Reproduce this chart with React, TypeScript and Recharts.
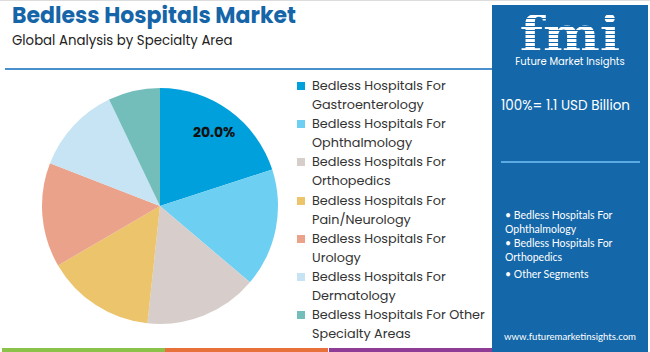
import React from "react";
import { PieChart, Pie, Cell, Legend } from "recharts";

const SEGMENTS = [
  "Bedless Hospitals For Gastroenterology",
  "Bedless Hospitals For Ophthalmology",
  "Bedless Hospitals For Orthopedics",
  "Bedless Hospitals For Pain/Neurology",
  "Bedless Hospitals For Urology",
  "Bedless Hospitals For Dermatology",
  "Bedless Hospitals For Other Specialty Areas",
];
const LEGEND_LINES = [
  ["Bedless Hospitals For", "Gastroenterology"],
  ["Bedless Hospitals For", "Ophthalmology"],
  ["Bedless Hospitals For", "Orthopedics"],
  ["Bedless Hospitals For", "Pain/Neurology"],
  ["Bedless Hospitals For", "Urology"],
  ["Bedless Hospitals For", "Dermatology"],
  ["Bedless Hospitals For Other", "Specialty Areas"],
];
const SHARES = [20.0, 16.2, 15.5, 14.9, 14.3, 12.0, 7.1];
const COLORS = ["#00A0DC", "#6DCFF2", "#D7CDCA", "#EBC46B", "#EBA28B", "#C6E4F3", "#73BEBB"];
const SIDE_BULLETS = [
  ["Bedless Hospitals For", "Ophthalmology"],
  ["Bedless Hospitals For", "Orthopedics"],
  ["Other Segments"],
];
const STRIPS = ["#8BC34A", "#E8703A", "#8E3C96"];

const FONT = "Poppins, 'Open Sans', sans-serif";
const SIDE_FONT = "Lato, 'Open Sans', sans-serif";
const PANEL = "#1467A8";

const data = SEGMENTS.map((name, i) => ({ name, value: SHARES[i] }));

const RAD = Math.PI / 180;

// only the biggest slice carries a label in the original
function SliceLabel(props: any) {
  const { cx, cy, midAngle, outerRadius, index, value } = props;
  if (index !== 0) return null;
  const r = outerRadius * 0.78;
  const x = cx + r * Math.cos(-midAngle * RAD);
  const y = cy + r * Math.sin(-midAngle * RAD);
  return (
    <text x={x} y={y} textAnchor="middle" dominantBaseline="central" fill="#111" fontSize={14} fontWeight={700} fontFamily={FONT}>
      {value.toFixed(1)}%
    </text>
  );
}

function LegendBox() {
  return (
    <div style={{ fontFamily: FONT, fontSize: 12.8, color: "#333", lineHeight: "19.1px" }}>
      {LEGEND_LINES.map((lines, i) => (
        <div key={i} style={{ display: "flex", alignItems: "flex-start" }}>
          <span style={{ width: 8, height: 8, background: COLORS[i], marginTop: 6, marginRight: 7, flex: "none" }} />
          <div>
            {lines.map((l, j) => (
              <div key={j} style={{ whiteSpace: "nowrap" }}>{l}</div>
            ))}
          </div>
        </div>
      ))}
    </div>
  );
}

function Logo() {
  return (
    <svg width={156} height={70} style={{ position: "absolute", left: 0, top: 0 }}>
      <defs>
        <pattern id="stripes" width="4" height="4" patternUnits="userSpaceOnUse">
          <rect width="4" height="3" fill="#fff" />
        </pattern>
      </defs>
      <g transform="translate(78 46) scale(1.12 1)">
        <text x={0} y={0} textAnchor="middle" fontFamily="'DejaVu Serif', serif" fontWeight={700} fontSize={48} fill="url(#stripes)">
          fmi
        </text>
      </g>
      <text x={78} y={60} textAnchor="middle" fontFamily={FONT} fontSize={10} fill="#fff">
        Future Market Insights
      </text>
    </svg>
  );
}

export default function App() {
  return (
    <div style={{ position: "absolute", left: 0, top: 0, width: 650, height: 352, background: "#fff", overflow: "hidden", fontFamily: FONT }}>
      <div style={{ position: "absolute", left: 0, top: 0, width: 650, height: 1, background: "#ddd" }} />
      <div style={{ position: "absolute", left: 12, top: 3, fontSize: 22, lineHeight: "26px", fontWeight: 700, color: "#1565A8" }}>
        Bedless Hospitals Market
      </div>
      <div style={{ position: "absolute", left: 12, top: 32, fontSize: 13.3, lineHeight: "17px", color: "#222" }}>
        Global Analysis by Specialty Area
      </div>
      <div style={{ position: "absolute", left: 5, top: 68, width: 487, height: 2, background: "#4A90CC" }} />

      <div style={{ position: "absolute", left: 0, top: 0 }}>
        <PieChart width={490} height={352} margin={{ top: 0, right: 0, bottom: 0, left: 0 }}>
          <Pie
            data={data}
            dataKey="value"
            nameKey="name"
            cx={160}
            cy={206}
            outerRadius={118}
            startAngle={90}
            endAngle={-270}
            stroke="none"
            label={SliceLabel}
            labelLine={false}
            isAnimationActive={false}
          >
            {data.map((d, i) => (
              <Cell key={d.name} fill={COLORS[i]} />
            ))}
          </Pie>
          <Legend content={() => <LegendBox />} wrapperStyle={{ position: "absolute", left: 297, top: 76, width: 192 }} />
        </PieChart>
      </div>

      <div style={{ position: "absolute", left: 492, top: 5, width: 156, height: 347, background: PANEL, color: "#fff" }}>
        <Logo />
        <div style={{ position: "absolute", left: 9, top: 91, fontSize: 13.5, whiteSpace: "nowrap" }}>100%= 1.1 USD Billion</div>
        <div style={{ position: "absolute", left: 9, top: 156, width: 139, height: 2, background: "#5BAAE3" }} />
        <div style={{ position: "absolute", left: 13, top: 203, fontSize: 10.5, lineHeight: "14px", fontFamily: SIDE_FONT }}>
          {SIDE_BULLETS.map((lines, i) => (
            <div key={i} style={{ marginBottom: i === 1 ? 3 : 0 }}>
              {lines.map((l, j) => (
                <div key={j} style={{ whiteSpace: "nowrap" }}>{j === 0 ? "\u2022 " + l : l}</div>
              ))}
            </div>
          ))}
        </div>
        <div style={{ position: "absolute", left: 0, width: 156, top: 326, textAlign: "center", fontSize: 9.6, fontFamily: SIDE_FONT }}>
          www.futuremarketinsights.com
        </div>
      </div>

      {STRIPS.map((c, i) => (
        <div key={c} style={{ position: "absolute", left: 2 + i * 163.3, top: 348, width: 163, height: 4, background: c }} />
      ))}
    </div>
  );
}
